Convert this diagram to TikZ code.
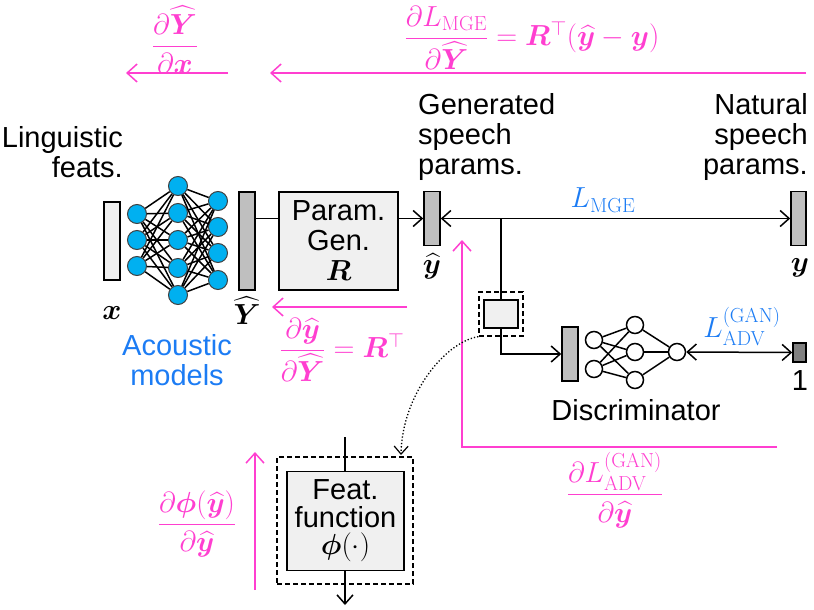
\RequirePackage{fix-cm}
\documentclass[tikz,border=0pt]{standalone}
\usepackage{amsmath,bm}
\usepackage[no-math]{fontspec}
\setmainfont{Liberation Sans}
\usetikzlibrary{arrows.meta,calc}
\definecolor{pk}{HTML}{FF3FD0}
\definecolor{bl}{HTML}{1C7CF4}
\definecolor{cy}{HTML}{00B0F0}
\definecolor{lg}{HTML}{F0F0F0}
\definecolor{mg}{HTML}{BFBFBF}
\definecolor{dg}{HTML}{808080}
\newcommand{\yh}{\widehat{\bm y}}
\newcommand{\Yh}{\widehat{\bm Y}}
\begin{document}
\begin{tikzpicture}[x=1pt,y=-1pt,
  font=\fontsize{29}{30}\selectfont,
  txt/.style={inner sep=0pt},
  bar/.style={draw, line width=1.5pt, inner sep=0pt, fill=mg},
  nn/.style={circle, draw=black!75, fill=cy, minimum size=19pt, inner sep=0pt, line width=1pt},
  dn/.style={circle, draw, fill=white, minimum size=17pt, inner sep=0pt, line width=1.5pt},
  conn/.style={line width=1.5pt},
  tip/.style={-{Straight Barb[length=9pt,width=16pt,line width=1.5pt]}},
  dtip/.style={{Straight Barb[length=9pt,width=16pt,line width=1.5pt]}-{Straight Barb[length=9pt,width=16pt,line width=1.5pt]}},
  pkarr/.style={draw=pk, line width=1.5pt, -{Straight Barb[length=10pt,width=18pt,line width=1.5pt]}},
  fbox/.style={draw, line width=1.5pt, fill=lg, inner sep=0pt, align=center},
  dbox/.style={draw, dash pattern=on 5pt off 3pt, line width=1.3pt, inner sep=0pt},
  pklab/.style={text=pk, inner sep=0pt},
  bllab/.style={text=bl, inner sep=0pt}
]
\useasboundingbox (0,0) rectangle (814,610);

% ---- top gradient arrows
\coordinate (t1s) at (228,73); \coordinate (t1e) at (126,73);
\coordinate (t2s) at (806,73); \coordinate (t2e) at (270,73);
\draw[pkarr] (t1s) -- (t1e);
\draw[pkarr] (t2s) -- (t2e);
\node[pklab] (g1) at (175,40) {$\dfrac{\partial\Yh}{\partial\bm x}$};
\node[pklab] (g2) at (532,38) {$\dfrac{\partial L_{\mathrm{MGE}}}{\partial\Yh} = \bm R^{\top}(\yh-\bm y)$};

% ---- texts
\node[txt, align=right, anchor=east] (ling) at (123,152) {Linguistic\\feats.};
\node[txt, align=left, anchor=west] (gen) at (418,137) {Generated\\speech\\params.};
\node[txt, align=right, anchor=east] (nat) at (808,137) {Natural\\speech\\params.};

% ---- input bar
\node[bar, fill=lg, minimum width=16pt, minimum height=78pt] (xb) at (112,241) {};
\node[txt] (xl) at (112,313) {$\bm x$};

% ---- acoustic model network
\foreach \i/\y in {1/214,2/240,3/266} \node[nn] (a\i) at (137,\y) {};
\foreach \i/\y in {1/186,2/213,3/240,4/268,5/295} \node[nn] (b\i) at (178,\y) {};
\foreach \i/\y in {1/201,2/227,3/253,4/280} \node[nn] (c\i) at (218,\y) {};
\foreach \i in {1,2,3} \foreach \j in {1,...,5} \draw[conn] (a\i) -- (b\j);
\foreach \i in {1,...,5} \foreach \j in {1,...,4} \draw[conn] (b\i) -- (c\j);
\node[bllab, align=center] (ac) at (177,360) {Acoustic\\models};

% ---- Y hat bar
\node[bar, minimum width=16pt, minimum height=98pt] (Yb) at (247,241) {};
\node[txt] (Yl) at (247,311) {$\Yh$};

% ---- parameter generation
\node[fbox, minimum width=119pt, minimum height=98pt] (pg) at (338.5,241) {Param.\\Gen.\\$\bm R$};

% ---- generated params bar
\node[bar, minimum width=16pt, minimum height=54pt] (yh) at (432,218.5) {};
\node[txt] (yhl) at (432,266) {$\yh$};

% ---- natural params bar
\node[bar, minimum width=15pt, minimum height=54pt] (yn) at (798.5,218.5) {};
\node[txt] (ynl) at (800,268) {$\bm y$};

\draw[conn] (Yb.east |- yh.west) -- (pg.west |- yh.west);
\draw[conn, tip] (pg.east |- yh.west) -- (yh.west);
\draw[conn, dtip] (yh.east) -- (yn.west);
\node[bllab] (lmge) at (603,200) {$L_{\mathrm{MGE}}$};

% ---- small feature box
\node[fbox, minimum width=34pt, minimum height=28pt] (si) at (501,314) {};
\node[dbox, minimum width=44pt, minimum height=44pt] (so) at (501,314) {};
\coordinate (br) at (501,218.5);
\coordinate (bend) at (501,354);
\draw[conn] (br) -- (si.north);

% ---- discriminator
\node[bar, minimum width=16pt, minimum height=54pt] (db) at (570,354) {};
\draw[conn, tip] (si.south) -- (bend) -- (db.west);
\foreach \i/\y in {1/340,2/369} \node[dn] (d\i) at (594,\y) {};
\foreach \i/\y in {1/325,2/352,3/380} \node[dn] (e\i) at (635,\y) {};
\node[dn] (o) at (677,352) {};
\foreach \i in {1,2} \foreach \j in {1,2,3} \draw[conn] (d\i) -- (e\j);
\foreach \j in {1,2,3} \draw[conn] (e\j) -- (o);
\node[draw, line width=1.5pt, fill=dg, minimum width=13pt, minimum height=19pt, inner sep=0pt] (one) at (799.5,352.5) {};
\draw[conn, dtip] (o.east) -- (one.west);
\node[txt] (onel) at (800,381) {1};
\node[bllab] (ladv) at (742,326) {$L_{\mathrm{ADV}}^{(\mathrm{GAN})}$};
\node[txt] (disc) at (636,410) {Discriminator};

% ---- pink gradient under Param. Gen.
\coordinate (p1s) at (407,307); \coordinate (p1e) at (272,307);
\draw[pkarr] (p1s) -- (p1e);
\node[pklab] (g3) at (342,350) {$\dfrac{\partial\yh}{\partial\Yh} = \bm R^{\top}$};

% ---- pink GAN gradient
\coordinate (q1) at (777,447); \coordinate (q2) at (462,447); \coordinate (q3) at (462,240);
\draw[pkarr] (q1) -- (q2) -- (q3);
\node[pklab] (g4) at (615,490) {$\dfrac{\partial L_{\mathrm{ADV}}^{(\mathrm{GAN})}}{\partial\yh}$};

% ---- feature function box
\node[fbox, minimum width=117pt, minimum height=99pt, font=\fontsize{29}{27.5}\selectfont] (fi) at (345.5,521) {Feat.\\function\\$\bm\phi(\cdot)$};
\node[dbox, minimum width=136pt, minimum height=127pt] (fo) at (345,520.5) {};
\coordinate (fin) at (345,437);
\coordinate (fout) at (345,605);
\draw[conn] (fin) -- (fi.north -| fin);
\draw[conn, tip] (fi.south -| fout) -- (fout);

% ---- pink feature gradient
\coordinate (f1s) at (255,590); \coordinate (f1e) at (255,452);
\draw[pkarr] (f1s) -- (f1e);
\node[pklab] (g5) at (197,524) {$\dfrac{\partial\bm\phi(\yh)}{\partial\yh}$};

% ---- dotted link
\coordinate (dl) at (401,455);
\draw[dotted, line width=1.3pt, -{Straight Barb[length=8pt,width=14pt,line width=1.2pt]}] (so.south west) .. controls (445,342) and (402,395) .. (dl);
\end{tikzpicture}
\end{document}
